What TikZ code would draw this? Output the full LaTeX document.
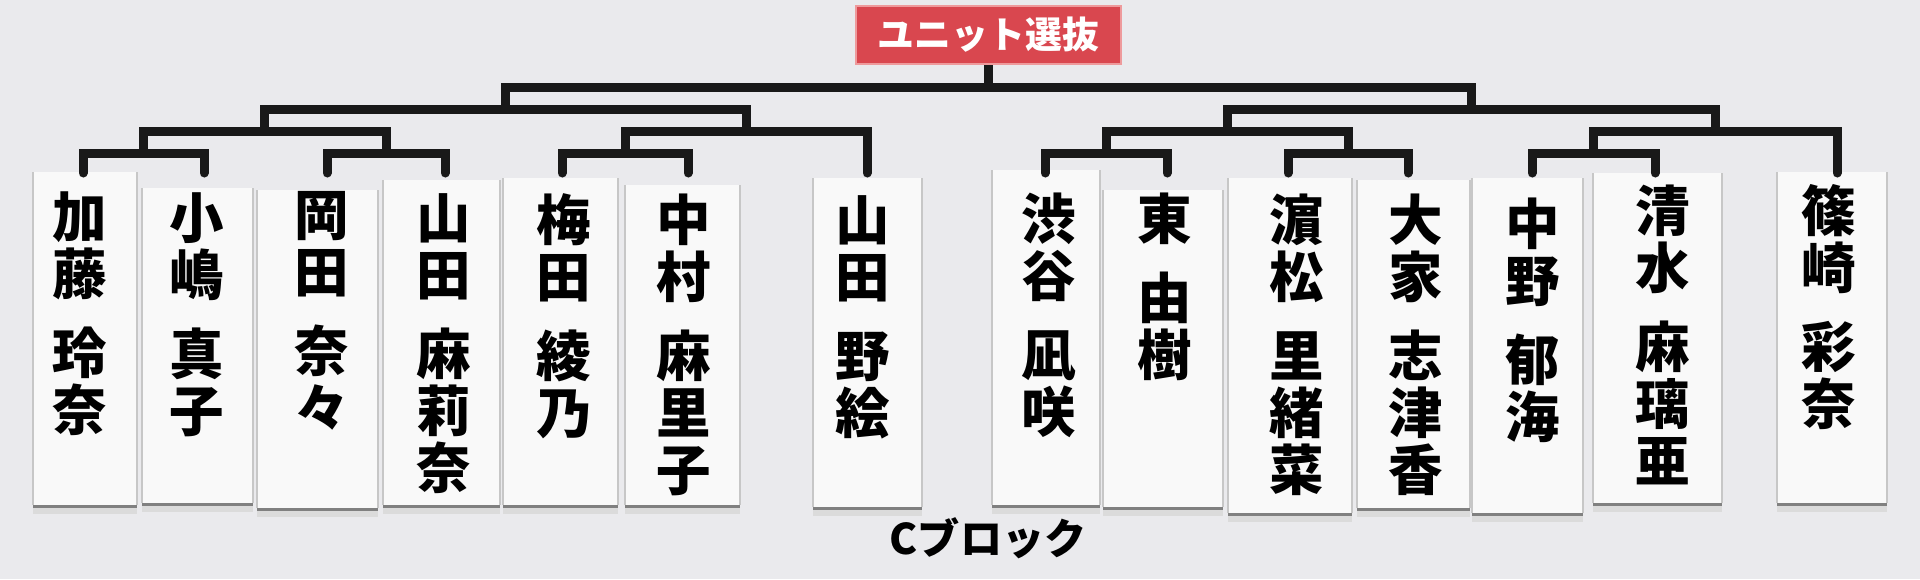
\documentclass[tikz,border=0pt]{standalone}
\usepackage{fontspec}
\newfontfamily\jp{Noto Sans CJK JP}
\usetikzlibrary{calc}
\definecolor{boardgray}{HTML}{EAEAED}
\definecolor{cardwhite}{HTML}{F9F9F9}
\definecolor{titlered}{HTML}{D9474F}
\definecolor{titleedge}{HTML}{EE9A9C}
\newcommand{\gap}{2.2mm}

\begin{document}
\begin{tikzpicture}[x = 0.1mm, y = -0.1mm,
	bracket/.style = {line width = 0.9mm, line cap = round, color = black!90},
	card/.style = {fill = cardwhite, inner sep = 0, outer sep = 0},
	cardedge/.style = {draw = black!22, line width = 0.12mm},
	cardshadow/.style = {draw = black!50, line width = 0.3mm},
	cardblur/.style = {draw = black!14, line width = 0.6mm},
	member/.style = {font = \jp\bfseries\fontsize{15.5pt}{16.2pt}\selectfont, align = center, anchor = north, inner sep = 0}]%ユニット選抜
	\path[use as bounding box, fill = boardgray] (0,0) rectangle (1920,579);
	\foreach \i/\l/\r/\t/\b in {1/33/137/172/505, 2/142/253/188/503, 3/257/378/190/508, 4/383/500/180/505, 5/503/618/178/505, 6/625/740/185/505, 7/813/922/178/507, 8/992/1100/170/505, 9/1103/1223/190/507, 10/1228/1352/178/513, 11/1357/1470/180/508, 12/1472/1583/178/513, 13/1593/1722/173/503, 14/1777/1887/172/503}
	{
		\node[card, minimum width = (\r-\l)*0.1mm, minimum height = (\b-\t)*0.1mm] (K\i) at ({(\l+\r)/2}, {(\t+\b)/2}) {};
		\draw[cardblur] ([yshift = -0.6mm]K\i.south west) -- ([yshift = -0.6mm]K\i.south east);
		\draw[cardedge] (K\i.north west) -- (K\i.south west) (K\i.north east) -- (K\i.south east);
		\draw[cardshadow] ([yshift = -0.15mm]K\i.south west) -- ([yshift = -0.15mm]K\i.south east);
	}
	\foreach \p/\x/\y/\name in {A/80/191/{加\\藤\\[\gap]玲\\奈}, B/197/192/{小\\嶋\\[\gap]真\\子}, C/322/191/{岡\\田\\[\gap]奈\\々}, D/444/193/{山\\田\\[\gap]麻\\莉\\奈}, E/564/193/{梅\\田\\[\gap]綾\\乃}, F/684/193/{中\\村\\[\gap]麻\\里\\子}, G/863/195/{山\\田\\[\gap]野\\絵}, H/1049/192/{渋\\谷\\[\gap]凪\\咲}, I/1165/192/{東\\[\gap]由\\樹}, J/1297/193/{濵\\松\\[\gap]里\\緒\\菜}, K/1416/193/{大\\家\\[\gap]志\\津\\香}, L/1533/197/{中\\野\\[\gap]郁\\海}, M/1663/184/{清\\水\\[\gap]麻\\璃\\亜}, N/1829/184/{篠\\崎\\[\gap]彩\\奈}}
		\node[member] (M\p) at (\x,\y) {\name};
	\foreach \p/\x in {A/83, B/204, C/327, D/445, E/562, F/688, G/867, H/1045, I/1167, J/1288, K/1408, L/1532, M/1655, N/1837}
		\coordinate (\p) at (\x,173);
	\coordinate (AB) at ($(A)!0.5!(B) + (0,-20)$);
	\coordinate (CD) at ($(C)!0.5!(D) + (0,-20)$);
	\coordinate (EF) at ($(E)!0.5!(F) + (0,-20)$);
	\coordinate (HI) at ($(H)!0.5!(I) + (0,-20)$);
	\coordinate (JK) at ($(J)!0.5!(K) + (0,-20)$);
	\coordinate (LM) at ($(L)!0.5!(M) + (0,-20)$);
	\coordinate (ABCD) at ($(AB)!0.5!(CD) + (0,-22)$);
	\coordinate (EFG) at ($(EF)!0.5!(EF -| G) + (0,-22)$);
	\coordinate (HIJK) at ($(HI)!0.5!(JK) + (0,-22)$);
	\coordinate (LMN) at ($(LM)!0.5!(LM -| N) + (0,-22)$);
	\coordinate (AG) at ($(ABCD)!0.5!(EFG) + (0,-22)$);
	\coordinate (HN) at ($(HIJK)!0.5!(LMN) + (0,-22)$);
	\coordinate (AN) at ($(AG)!0.5!(HN) + (0,-22)$);
	\draw[bracket]
	(A) |- (AB) -| (B) (C) |- (CD) -| (D) (E) |- (EF) -| (F)
	(H) |- (HI) -| (I) (J) |- (JK) -| (K) (L) |- (LM) -| (M)
	(AB) |- (ABCD) -| (CD) (EF) |- (EFG) -| (G)
	(HI) |- (HIJK) -| (JK) (LM) |- (LMN) -| (N)
	(ABCD) |- (AG) -| (EFG) (HIJK) |- (HN) -| (LMN)
	(AG) |- (AN) -| (HN);
	\node[fill = titlered, draw = titleedge, line width = 0.2mm, minimum width = 26.5mm, minimum height = 5.8mm, text = white, font = \jp\bfseries\fontsize{10.5pt}{12pt}\selectfont] (T) at (AN |- 0,35) {ユニット選抜};
	\draw[bracket, line cap = butt] (T) -- (AN);
	\node[font = \jp\bfseries\fontsize{12pt}{14pt}\selectfont] (CB) at (AN |- 0,538) {Cブロック};
\end{tikzpicture}
\end{document}
